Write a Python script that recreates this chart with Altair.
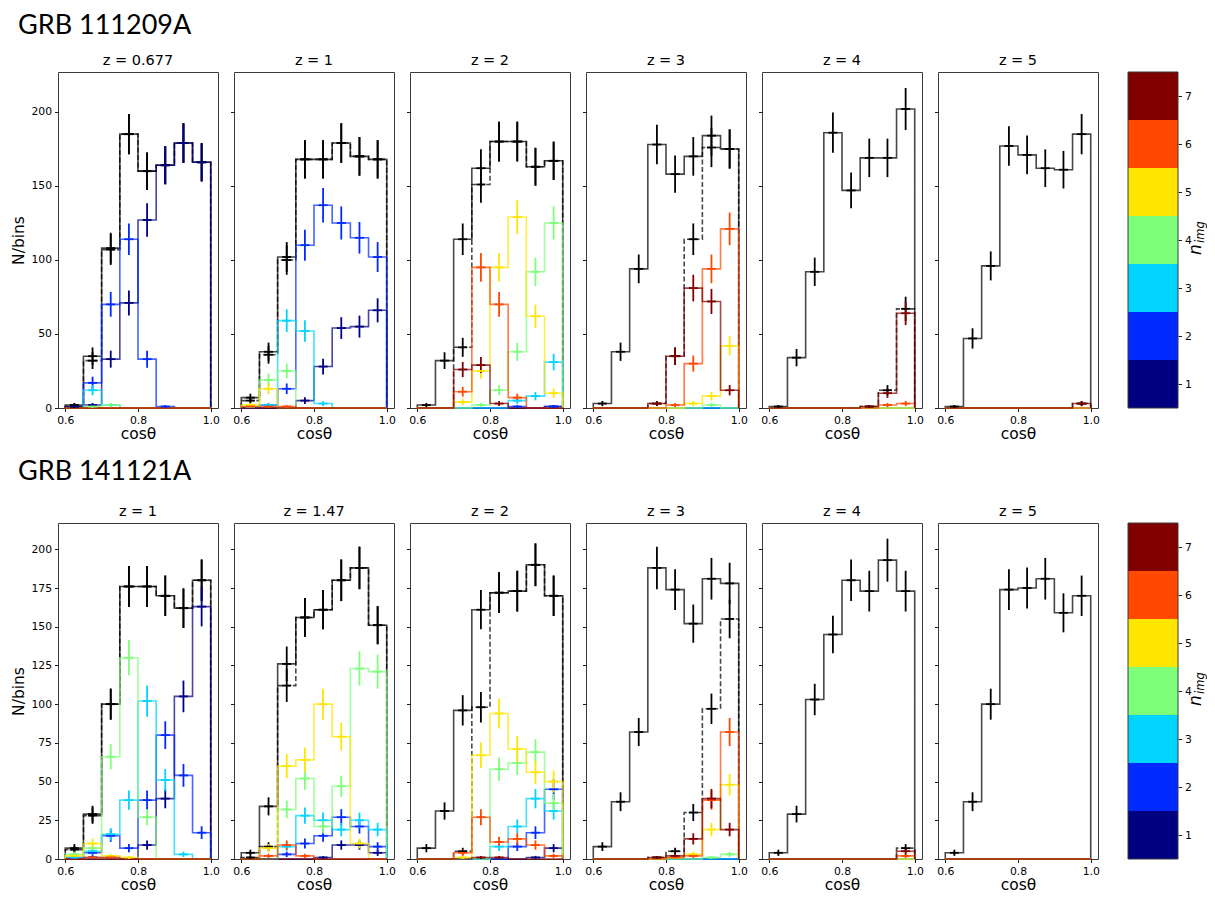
import math
import altair as alt
import pandas as pd

# ---------------- data ----------------
BIN_LEFT = [0.60, 0.65, 0.70, 0.75, 0.80, 0.85, 0.90, 0.95]
BIN_END = 1.0
N_IMG_LEVELS = ["1", "2", "3", "4", "5", "6", "7"]
N_IMG_COLORS = ["#000080", "#002aff", "#00d4ff", "#7dff7a", "#ffe600", "#ff4800", "#800000"]

ROW_TITLES = ["GRB 111209A", "GRB 141121A"]
ROW_A_Z = ["z = 0.677", "z = 1", "z = 2", "z = 3", "z = 4", "z = 5"]
ROW_B_Z = ["z = 1", "z = 1.47", "z = 2", "z = 3", "z = 4", "z = 5"]
ROW_A_YTICKS = [0, 50, 100, 150, 200]
ROW_B_YTICKS = [0, 25, 50, 75, 100, 125, 150, 175, 200]
ROW_A_YMAX = 227
ROW_B_YMAX = 217
X_TICKS = [0.6, 0.8, 1.0]
Z0 = [0, 0, 0, 0, 0, 0, 0, 0]

# GRB 111209A
A1_total = [2, 35, 108, 185, 160, 164, 179, 166]
A1_lensed = [1, 32, 107, 185, 160, 164, 179, 166]
A1_nimg = [[1, 2, 33, 71, 127, 164, 179, 166],
           [0, 17, 70, 114, 33, 1, 0, 0],
           [0, 12, 2, 0, 0, 0, 0, 0],
           [0, 1, 2, 0, 0, 0, 0, 0],
           Z0, Z0, Z0]

A2_total = [7, 38, 102, 168, 168, 179, 170, 168]
A2_lensed = [5, 36, 100, 168, 168, 179, 170, 168]
A2_nimg = [[0, 0, 0, 5, 28, 54, 55, 66],
           [0, 2, 13, 110, 137, 125, 115, 102],
           [1, 2, 59, 52, 3, 0, 0, 0],
           [1, 19, 25, 0, 0, 0, 0, 0],
           [2, 13, 0, 0, 0, 0, 0, 0],
           [1, 1, 1, 0, 0, 0, 0, 0],
           Z0]

A3_total = [2, 32, 114, 162, 180, 180, 163, 167]
A3_lensed = [0, 0, 41, 151, 180, 180, 163, 167]
A3_nimg = [[0, 0, 0, 0, 0, 0, 0, 1],
           [0, 0, 0, 0, 0, 1, 0, 1],
           [0, 0, 0, 0, 0, 5, 8, 31],
           [0, 0, 0, 2, 12, 38, 92, 125],
           [0, 0, 4, 25, 95, 129, 62, 10],
           [0, 0, 11, 95, 70, 7, 0, 0],
           [0, 0, 26, 29, 3, 0, 0, 0]]

A4_total = [3, 38, 94, 178, 158, 170, 184, 175]
A4_lensed = [0, 0, 0, 3, 35, 114, 176, 175]
A4_nimg = [Z0, Z0, Z0,
           [0, 0, 0, 0, 0, 0, 2, 0],
           [0, 0, 0, 0, 0, 3, 8, 42],
           [0, 0, 0, 0, 2, 30, 94, 121],
           [0, 0, 0, 3, 35, 81, 72, 12]]

A5_total = [1, 34, 92, 186, 147, 169, 169, 202]
A5_lensed = [0, 0, 0, 0, 0, 1, 12, 67]
A5_nimg = [Z0, Z0, Z0, Z0, Z0,
           [0, 0, 0, 0, 0, 0, 2, 3],
           [0, 0, 0, 0, 0, 1, 10, 64]]

A6_total = [1, 47, 96, 177, 171, 162, 161, 185]
A6_lensed = [0, 0, 0, 0, 0, 0, 0, 3]
A6_nimg = [Z0, Z0, Z0, Z0, Z0, Z0,
           [0, 0, 0, 0, 0, 0, 0, 3]]

# GRB 141121A
B1_total = [7, 29, 100, 176, 176, 170, 162, 180]
B1_lensed = [6, 28, 100, 176, 176, 170, 162, 180]
B1_nimg = [[0, 1, 1, 0, 9, 39, 105, 163],
           [1, 4, 15, 7, 38, 80, 54, 17],
           [1, 5, 16, 38, 102, 51, 3, 0],
           [3, 7, 66, 130, 27, 0, 0, 0],
           [2, 10, 2, 1, 0, 0, 0, 0],
           [0, 1, 1, 0, 0, 0, 0, 0],
           Z0]

B2_total = [4, 34, 126, 156, 161, 180, 188, 151]
B2_lensed = [1, 8, 112, 156, 161, 180, 188, 151]
B2_nimg = [[0, 0, 0, 0, 1, 9, 9, 4],
           [0, 0, 3, 10, 15, 27, 21, 8],
           [0, 0, 8, 28, 25, 19, 25, 19],
           [0, 0, 32, 52, 21, 47, 123, 121],
           [0, 7, 60, 64, 100, 79, 10, 0],
           [0, 2, 9, 2, 0, 0, 0, 0],
           Z0]

B3_total = [7, 31, 96, 161, 172, 173, 190, 170]
B3_lensed = [0, 0, 5, 98, 172, 173, 190, 170]
B3_nimg = [[0, 0, 0, 0, 0, 0, 1, 7],
           [0, 0, 0, 0, 0, 8, 17, 45],
           [0, 0, 0, 0, 8, 21, 39, 31],
           [0, 0, 0, 0, 58, 62, 69, 36],
           [0, 0, 1, 67, 94, 71, 56, 50],
           [0, 0, 4, 27, 11, 13, 9, 2],
           [0, 0, 0, 1, 1, 0, 0, 0]]

B4_total = [8, 37, 82, 188, 174, 152, 181, 178]
B4_lensed = [0, 0, 0, 1, 5, 30, 97, 155]
B4_nimg = [Z0, Z0, Z0,
           [0, 0, 0, 0, 0, 0, 1, 3],
           [0, 0, 0, 0, 1, 3, 19, 48],
           [0, 0, 0, 0, 1, 2, 38, 82],
           [0, 0, 0, 1, 2, 13, 39, 19]]

B5_total = [4, 29, 103, 145, 180, 173, 193, 173]
B5_lensed = [0, 0, 0, 0, 0, 0, 0, 7]
B5_nimg = [Z0, Z0, Z0, Z0, Z0,
           [0, 0, 0, 0, 0, 0, 0, 2],
           [0, 0, 0, 0, 0, 0, 0, 5]]

B6_total = [4, 37, 100, 174, 175, 181, 159, 170]
B6_lensed = [0, 0, 0, 0, 0, 0, 0, 0]
B6_nimg = [Z0, Z0, Z0, Z0, Z0, Z0, Z0]

ROW_A = [(A1_total, A1_lensed, A1_nimg), (A2_total, A2_lensed, A2_nimg),
         (A3_total, A3_lensed, A3_nimg), (A4_total, A4_lensed, A4_nimg),
         (A5_total, A5_lensed, A5_nimg), (A6_total, A6_lensed, A6_nimg)]
ROW_B = [(B1_total, B1_lensed, B1_nimg), (B2_total, B2_lensed, B2_nimg),
         (B3_total, B3_lensed, B3_nimg), (B4_total, B4_lensed, B4_nimg),
         (B5_total, B5_lensed, B5_nimg), (B6_total, B6_lensed, B6_nimg)]

# ---------------- tables ----------------
SERIES = ["total", "lensed"] + N_IMG_LEVELS
SERIES_COLORS = ["#000000", "#000000"] + N_IMG_COLORS
edges = BIN_LEFT + [BIN_END]
half = (edges[1] - edges[0]) / 2.0

line_rows = []
err_rows = []
for rname, row in (("A", ROW_A), ("B", ROW_B)):
    for c, (tot, lens, nimg) in enumerate(row):
        pkey = f"{rname}{c}"
        vals_by_series = [tot, lens] + list(nimg)
        for s, vals in zip(SERIES, vals_by_series):
            pts = [(edges[0], 0)]
            for i, v in enumerate(vals):
                pts.append((edges[i], v))
                pts.append((edges[i + 1], v))
            pts.append((edges[-1], 0))
            for k, (x, y) in enumerate(pts):
                line_rows.append({"panel": pkey, "series": s, "i": k, "x": x, "y": y})
            for i, v in enumerate(vals):
                if v > 0:
                    xc = edges[i] + half
                    e = math.sqrt(v)
                    err_rows.append({"panel": pkey, "series": s, "xc": xc,
                                     "xl": xc - half / 2, "xr": xc + half / 2,
                                     "y": v, "lo": v - e, "hi": v + e})

lines_df = pd.DataFrame(line_rows)
err_df = pd.DataFrame(err_rows)
cbar_df = pd.DataFrame({"series": N_IMG_LEVELS,
                        "lo": [int(n) - 0.5 for n in N_IMG_LEVELS],
                        "hi": [int(n) + 0.5 for n in N_IMG_LEVELS]})

cscale = alt.Scale(domain=SERIES, range=SERIES_COLORS)

W = 160
H = 336
COL_SP = 16
ROW_SP = 115
CB_GAP = 14      # blank strip at the left of the colour-bar cell
CB_W = 50
CB_CELL_LEFT = 6 * (W + COL_SP)   # colour-bar cell left, relative to panel 1 left
GRB_X = -40 - CB_CELL_LEFT


def make_panel(pkey, ztitle, yticks, ymax, first):
    xs = alt.Scale(domain=[0.58, 1.02], nice=False, zero=False)
    ys = alt.Scale(domain=[0, ymax], nice=False)
    xaxis = alt.Axis(values=X_TICKS, format=".1f", title="cosθ")
    if first:
        yaxis = alt.Axis(values=yticks, title="N/bins")
    else:
        yaxis = alt.Axis(values=yticks, labels=False, title=None)

    def X(f):
        return alt.X(f, type="quantitative", scale=xs, axis=xaxis)

    def Y(f):
        return alt.Y(f, type="quantitative", scale=ys, axis=yaxis)

    layers = []
    for s, col in zip(SERIES, SERIES_COLORS):
        kw = dict(stroke=col, strokeWidth=1.6, opacity=0.72)
        if s == "lensed":
            kw["strokeDash"] = [5, 2.5]
        layers.append(
            alt.Chart(lines_df)
            .transform_filter((alt.datum.panel == pkey) & (alt.datum.series == s))
            .mark_line(**kw)
            .encode(x=X("x"), y=Y("y"), order=alt.Order("i:Q"))
        )
    errbase = alt.Chart(err_df).transform_filter(alt.datum.panel == pkey)
    layers.append(
        errbase.mark_rule(strokeWidth=1.8).encode(
            x=X("xc"), y=Y("lo"), y2=alt.Y2("hi"),
            color=alt.Color("series:N", scale=cscale, legend=None))
    )
    layers.append(
        errbase.mark_rule(strokeWidth=1.8).encode(
            x=X("xl"), x2=alt.X2("xr"), y=Y("y"),
            color=alt.Color("series:N", scale=cscale, legend=None))
    )
    return alt.layer(*layers).properties(
        width=W, height=H,
        title=alt.TitleParams(ztitle, font="DejaVu Sans", fontSize=14.5,
                              fontWeight="normal", color="black", offset=4,
                              frame="group", anchor="middle"),
    )


def make_cbar(row_title, title_y):
    bars = alt.Chart(cbar_df).mark_rect().encode(
        x=alt.value(CB_GAP), x2=alt.value(CB_GAP + CB_W),
        y=alt.Y("lo:Q", scale=alt.Scale(domain=[0.5, 7.5], nice=False, zero=False),
                axis=alt.Axis(orient="right", values=[1, 2, 3, 4, 5, 6, 7],
                              format="d", title=None)),
        y2=alt.Y2("hi"),
        color=alt.Color("series:N", scale=cscale, legend=None),
    )
    frame = alt.Chart(alt.Data(values=[{"a": 1}])).mark_rect(
        fill="transparent", stroke="#3a3a3a", strokeWidth=1
    ).encode(x=alt.value(CB_GAP), x2=alt.value(CB_GAP + CB_W),
             y=alt.value(0), y2=alt.value(H))
    cy = H / 2.0
    n_txt = alt.Chart(alt.Data(values=[{"t": "n"}])).mark_text(
        align="left", baseline="alphabetic", angle=270, font="DejaVu Sans",
        fontStyle="italic", fontSize=17, color="black"
    ).encode(x=alt.value(CB_GAP + CB_W + 23), y=alt.value(cy + 15), text="t:N")
    sub_txt = alt.Chart(alt.Data(values=[{"t": "img"}])).mark_text(
        align="left", baseline="alphabetic", angle=270, font="DejaVu Sans",
        fontStyle="italic", fontSize=11.5, color="black"
    ).encode(x=alt.value(CB_GAP + CB_W + 26), y=alt.value(cy + 3), text="t:N")
    grb = alt.Chart(alt.Data(values=[{"t": row_title}])).mark_text(
        align="left", baseline="alphabetic", font="Lato", fontSize=27, color="black"
    ).encode(x=alt.value(GRB_X), y=alt.value(title_y), text="t:N")
    return alt.layer(bars, frame, n_txt, sub_txt, grb).properties(
        width=CB_GAP + CB_W, height=H,
        view=alt.ViewBackground(stroke="transparent"))


cells = []
for c in range(6):
    cells.append(make_panel(f"A{c}", ROW_A_Z[c], ROW_A_YTICKS, ROW_A_YMAX, c == 0))
cells.append(make_cbar(ROW_TITLES[0], -38))
for c in range(6):
    cells.append(make_panel(f"B{c}", ROW_B_Z[c], ROW_B_YTICKS, ROW_B_YMAX, c == 0))
cells.append(make_cbar(ROW_TITLES[1], -43))

chart = (
    alt.concat(*cells, columns=7, spacing={"row": ROW_SP, "column": COL_SP},
               bounds="flush")
    .properties(padding={"left": 3, "top": 3, "right": 0, "bottom": 0},
                background="white")
    .configure_view(stroke="#3a3a3a", strokeWidth=1)
    .configure_axis(
        grid=False, domain=False,
        tickColor="black", tickSize=3.5, tickWidth=0.9,
        labelFont="DejaVu Sans", labelFontSize=10.8, labelColor="black",
        labelPadding=3,
        titleFont="DejaVu Sans", titleFontSize=15.5, titleFontWeight="normal",
        titleColor="black",
    )
    .configure_axisX(titlePadding=1)
    .configure_axisY(titlePadding=4)
)

chart.save("out.html", embed_options={"renderer": "svg", "actions": False})
